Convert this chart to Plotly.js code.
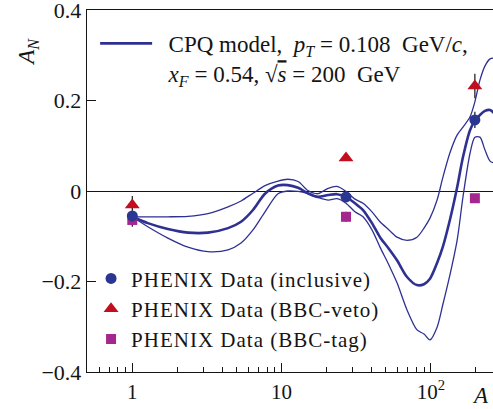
<!DOCTYPE html>
<html>
<head>
<meta charset="utf-8">
<script src="https://cdn.plot.ly/plotly-3.0.1.min.js"></script>
<style>
  html, body { margin: 0; padding: 0; background: #ffffff; overflow: hidden; }
  #chart { width: 493px; height: 409px; }
</style>
</head>
<body>
<div id="chart"></div>
<script>
// Nuclear dependence of A_N: CPQ model band (central + bounds) and PHENIX data
const modelA = [1.0, 1.27, 1.73, 2.36, 3.21, 4.38, 5.35, 6.43, 7.74, 9.46, 11.0, 12.9, 15.0, 17.5,
  20.5, 23.5, 27.0, 31.0, 35.1, 40.3, 45.6, 52.4, 59.3, 69.2, 80.7, 89.9, 98.6, 110, 120,
  134, 150, 164, 183, 197, 213, 230, 249, 265];

const modelCentral = [-0.057, -0.071, -0.084, -0.092, -0.092, -0.082, -0.068, -0.042, -0.006, 0.012,
  0.013, 0.007, -0.005, -0.013, -0.009, -0.007, -0.013, -0.027, -0.042, -0.071, -0.102, -0.128,
  -0.153, -0.190, -0.208, -0.206, -0.194, -0.159, -0.124, -0.064, 0.009, 0.075, 0.135, 0.155,
  0.168, 0.177, 0.179, 0.172];

const modelUpper = [-0.057, -0.057, -0.057, -0.056, -0.050, -0.035, -0.022, -0.005, 0.012, 0.022,
  0.026, 0.021, 0.001, -0.006, 0.006, 0.010, -0.001, -0.018, -0.027, -0.046, -0.068, -0.086,
  -0.102, -0.109, -0.102, -0.082, -0.060, -0.020, 0.029, 0.084, 0.124, 0.141, 0.164, 0.197,
  0.245, 0.276, 0.292, 0.294];

const modelLower = [-0.057, -0.079, -0.104, -0.124, -0.134, -0.130, -0.115, -0.086, -0.046, -0.006,
  0.000, -0.001, -0.006, -0.014, -0.020, -0.017, -0.027, -0.046, -0.057, -0.086, -0.124, -0.164,
  -0.203, -0.263, -0.307, -0.316, -0.329, -0.301, -0.252, -0.186, -0.108, -0.013, 0.084, 0.119,
  0.119, 0.091, 0.066, 0.062];

// PHENIX measurements: p+p (A=1), p+Al (A=27), p+Au (A=197)
const dataA = [1, 27, 197];
const inclusiveAN = [-0.055, -0.013, 0.157];
const inclusiveErr = [0.008, 0.006, 0.018];
const vetoAN = [-0.031, 0.073, 0.232];
const vetoErr = [0.020, 0.006, 0.027];
const tagAN = [-0.064, -0.057, -0.016];
const tagErr = [0.015, 0.011, 0.008];

const xTickVals = [1, 10, 100];
const xTickText = ['1', '10', '10<sup>2</sup>'];
const xMinorVals = [0.5, 0.6, 0.7, 0.8, 0.9, 2, 3, 4, 5, 6, 7, 8, 9, 20, 30, 40, 50, 60, 70, 80, 90, 200];
const yTickVals = [-0.4, -0.2, 0, 0.2, 0.4];
const yTickText = ['\u22120.4', '\u22120.2', '0', '0.2', '0.4'];

const serif = 'Liberation Serif, Times New Roman, serif';
const ink = '#141414';
const curveColor = '#2e3192';

// slightly widened lettering for the data legend
const spaced = s => '<span style="letter-spacing:1px">' + s + '</span>';

const modelLabel = '\u2002CPQ model,\u2002<i>p</i><sub><i>T</i></sub> = 0.108\u2002GeV/<i>c</i>,<br>' +
  '\u2002<i>x</i><sub><i>F</i></sub> = 0.54, \u221A<span style="text-decoration:overline"><i>s</i></span> = 200\u2002GeV';

const traces = [
  { x: modelA, y: modelUpper, mode: 'lines', showlegend: false,
    line: { color: curveColor, width: 1.3, shape: 'spline', smoothing: 0.8 } },
  { x: modelA, y: modelLower, mode: 'lines', showlegend: false,
    line: { color: curveColor, width: 1.3, shape: 'spline', smoothing: 0.8 } },
  { x: modelA, y: modelCentral, mode: 'lines', name: modelLabel, legend: 'legend',
    line: { color: curveColor, width: 2.6, shape: 'spline', smoothing: 0.8 } },
  { x: dataA, y: vetoAN, mode: 'markers', name: spaced('PHENIX Data (BBC-veto)'), legend: 'legend2',
    legendrank: 2,
    marker: { symbol: 'triangle-up', size: 13, color: '#c10f1f' },
    error_y: { type: 'data', array: vetoErr, color: ink, thickness: 1.2, width: 0 } },
  { x: dataA, y: tagAN, mode: 'markers', name: spaced('PHENIX Data (BBC-tag)'), legend: 'legend2',
    legendrank: 3,
    marker: { symbol: 'square', size: 10, color: '#a3278f' },
    error_y: { type: 'data', array: tagErr, color: ink, thickness: 1.2, width: 0 } },
  { x: dataA, y: inclusiveAN, mode: 'markers', name: spaced('PHENIX Data (inclusive)'), legend: 'legend2',
    legendrank: 1,
    marker: { symbol: 'circle', size: 11, color: '#2b3592' },
    error_y: { type: 'data', array: inclusiveErr, color: ink, thickness: 1.2, width: 0 } }
];

const layout = {
  width: 493, height: 409,
  margin: { l: 87, r: 0, t: 10, b: 37, pad: 0 },
  paper_bgcolor: '#ffffff', plot_bgcolor: '#ffffff',
  font: { family: serif, color: ink, size: 21 },
  xaxis: {
    type: 'log', range: [-0.3034, 2.4159],
    showline: true, linecolor: ink, linewidth: 1.3, mirror: true,
    showgrid: false, zeroline: false,
    ticks: 'inside', ticklen: 9, tickwidth: 1, tickcolor: ink,
    tickmode: 'array', tickvals: xTickVals, ticktext: xTickText,
    tickfont: { family: serif, size: 21, color: ink },
    minor: { tickmode: 'array', tickvals: xMinorVals, ticks: 'inside', ticklen: 5, tickwidth: 1, tickcolor: ink, showgrid: false }
  },
  yaxis: {
    range: [-0.4, 0.4],
    showline: true, linecolor: ink, linewidth: 1.3, mirror: false,
    showgrid: false, zeroline: true, zerolinecolor: ink, zerolinewidth: 1,
    ticks: 'inside', ticklen: 9, tickwidth: 1, tickcolor: ink,
    tickmode: 'array', tickvals: yTickVals, ticktext: yTickText,
    ticklabeloverflow: 'allow',
    tickfont: { family: serif, size: 22, color: ink }
  },
  legend: {
    x: 0.02, y: 0.967, xanchor: 'left', yanchor: 'top',
    bgcolor: 'rgba(0,0,0,0)', borderwidth: 0, valign: 'top', itemwidth: 52,
    font: { family: serif, size: 23, color: ink }
  },
  legend2: {
    x: 0.01, y: 0.314, xanchor: 'left', yanchor: 'top',
    bgcolor: 'rgba(0,0,0,0)', borderwidth: 0,
    font: { family: serif, size: 21, color: ink }
  },
  annotations: [
    { xref: 'paper', yref: 'paper', x: -0.146, y: 0.884, xanchor: 'center', yanchor: 'middle',
      text: '<i>A</i><sub><i>N</i></sub>', textangle: -90, showarrow: false,
      font: { family: serif, size: 23, color: ink } },
    { xref: 'paper', yref: 'paper', x: 0.968, y: -0.064, xanchor: 'center', yanchor: 'middle',
      text: '<i>A</i>', showarrow: false,
      font: { family: serif, size: 23, color: ink } }
  ]
};

Plotly.newPlot('chart', traces, layout, { displayModeBar: false, staticPlot: true });
</script>
</body>
</html>
